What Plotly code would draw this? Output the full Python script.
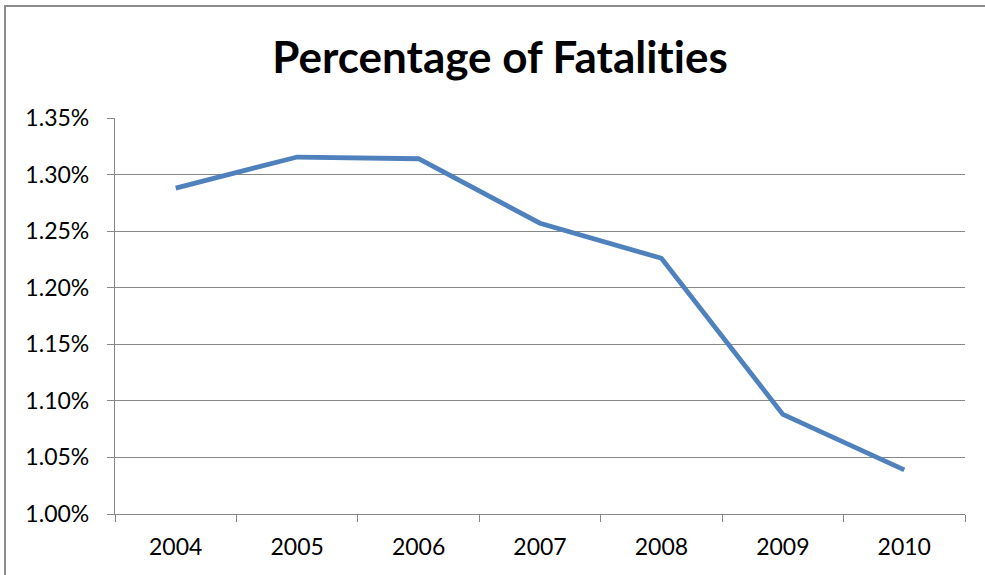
import plotly.graph_objects as go

years = ["2004", "2005", "2006", "2007", "2008", "2009", "2010"]
pct_fatalities = [1.288, 1.3155, 1.314, 1.257, 1.226, 1.088, 1.039]
y_ticks = [1.00, 1.05, 1.10, 1.15, 1.20, 1.25, 1.30, 1.35]
y_tick_labels = ["1.00%", "1.05%", "1.10%", "1.15%", "1.20%", "1.25%", "1.30%", "1.35%"]
title_text = "Percentage of Fatalit\u200cies"

W, H = 985, 575
ml, mr, mt, mb = 115, 20, 118, 61
pw, ph = W - ml - mr, H - mt - mb

fig = go.Figure()
fig.add_trace(go.Scatter(
    x=years, y=pct_fatalities, mode="lines",
    line=dict(color="#4F81BD", width=4.8),
    hoverinfo="skip", showlegend=False,
))

grid = "#878787"
font = "Lato, 'Open Sans', sans-serif"

fig.update_layout(
    width=W, height=H,
    margin=dict(l=ml, r=mr, t=mt, b=mb),
    paper_bgcolor="white", plot_bgcolor="white",
    title=dict(text="<b>" + title_text + "</b>", x=500 / W, xanchor="center",
               y=1 - 58 / H, yanchor="middle",
               font=dict(family=font, size=44, color="black")),
    font=dict(family=font, color="black"),
    xaxis=dict(
        type="category", tickson="boundaries", ticks="outside", ticklen=7,
        tickcolor=grid, tickwidth=1.3, showline=True, linecolor=grid, linewidth=1.3,
        showgrid=False, tickfont=dict(size=23, color="black"),
        range=[-0.5, 6.5], ticklabelstandoff=12,
    ),
    yaxis=dict(
        range=[1.0, 1.35], tickvals=y_ticks, ticktext=y_tick_labels,
        ticks="outside", ticklen=7, tickcolor=grid, tickwidth=1.3,
        showline=True, linecolor=grid, linewidth=1.3,
        showgrid=True, gridcolor=grid, gridwidth=1.3, zeroline=False,
        tickfont=dict(size=23, color="black"), ticklabelstandoff=13,
    ),
    shapes=[dict(
        type="rect", xref="paper", yref="paper",
        x0=(5 - ml) / pw, x1=(W + 20 - ml) / pw,
        y0=-(H + 20 - mt - ph) / ph, y1=1 + (mt - 6) / ph,
        line=dict(color="#8c8c8c", width=2), layer="below",
    )],
)

fig.write_html("out.html")
